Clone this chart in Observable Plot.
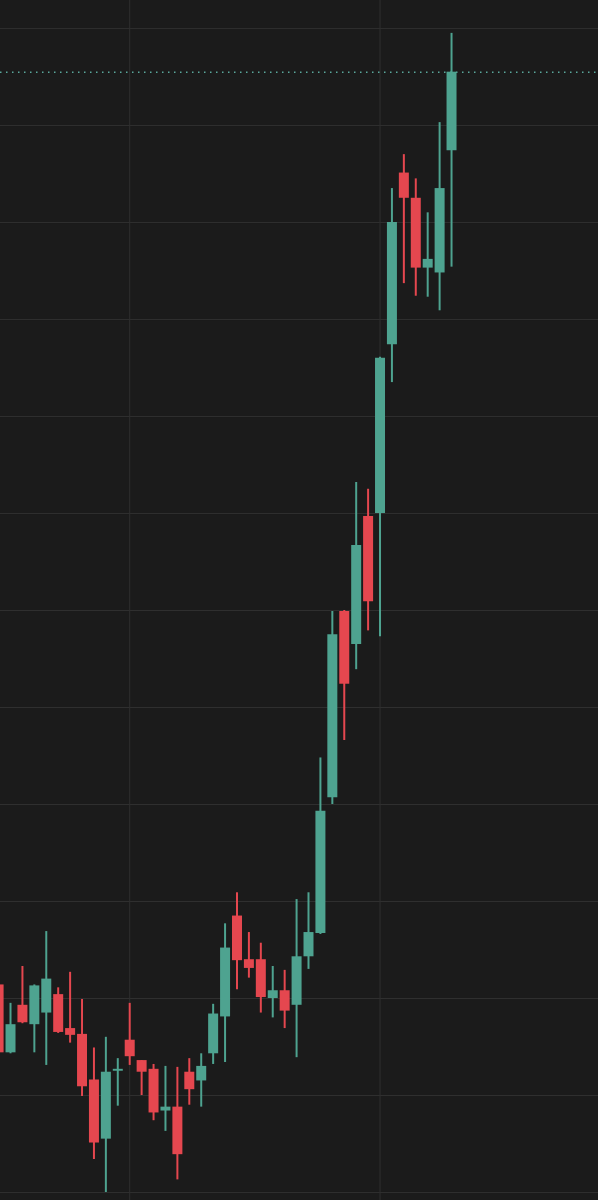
<!DOCTYPE html>
<html>
<head>
<meta charset="utf-8">
<script src="https://cdn.jsdelivr.net/npm/d3@7"></script>
<script src="https://cdn.jsdelivr.net/npm/@observablehq/plot@0.6"></script>
<style>
  html, body { margin: 0; padding: 0; background: #1b1b1b; }
  #chart svg { display: block; }
</style>
</head>
<body>
<div id="chart"></div>
<script>
// Session index of each candle
const sessions = d3.range(39);
const open  = [31.4, 24.4, 29.3, 27.3, 28.5, 30.4, 26.9, 26.3, 21.6, 15.5,
               22.5, 25.7, 23.6, 22.7, 18.4, 18.8, 22.4, 21.5, 24.3, 28.1,
               38.5, 34.0, 34.0, 30.0, 30.8, 29.3, 34.3, 36.7, 50.7, 69.9,
               66.5, 79.7, 80.0, 97.4, 115.1, 112.5, 105.3, 104.8, 117.4];
const high  = [31.5, 29.5, 33.3, 31.4, 36.9, 31.1, 32.7, 29.9, 24.9, 26.0,
               23.8, 29.5, 23.6, 23.2, 23.0, 22.9, 23.8, 24.3, 29.4, 37.7,
               40.9, 36.8, 35.7, 33.3, 32.9, 40.2, 40.9, 54.8, 69.9, 70.0,
               83.2, 82.5, 96.1, 113.5, 117.0, 114.5, 111.0, 120.3, 129.5];
const low   = [24.3, 24.3, 27.4, 24.4, 23.1, 26.4, 25.4, 19.9, 13.4, 10.0,
               18.9, 23.1, 20.0, 17.4, 16.3, 11.3, 19.0, 18.8, 23.2, 23.4,
               30.9, 32.1, 28.5, 28.0, 26.9, 23.9, 33.0, 36.6, 50.0, 56.6,
               63.9, 67.9, 67.3, 93.5, 103.7, 102.4, 102.3, 100.9, 105.4];
const close = [24.4, 27.3, 27.5, 31.3, 32.0, 26.5, 26.2, 20.9, 15.1, 22.4,
               22.7, 24.0, 22.4, 18.2, 18.8, 13.9, 20.6, 23.0, 28.4, 35.2,
               33.9, 33.1, 30.1, 30.8, 28.7, 34.3, 36.8, 49.3, 67.5, 62.4,
               76.7, 70.9, 96.0, 110.0, 112.5, 105.3, 106.2, 113.5, 125.5];
const priceTicks = d3.range(10, 131, 10);
const sessionTicks = [11, 32];

const candles = sessions.map((i) => ({
  i, open: open[i], high: high[i], low: low[i], close: close[i],
  up: close[i] >= open[i]
}));
const lastClose = close[close.length - 1];

const UP = "#4ea390", DOWN = "#e5474f";

const chart = Plot.plot({
  width: 598,
  height: 1200,
  margin: 0,
  style: { background: "#1b1b1b" },
  x: { domain: [0.16, 50.33], axis: null },
  y: { domain: [9.175, 132.89], axis: null },
  marks: [
    Plot.gridY(priceTicks, { stroke: "#2f2f2f", strokeOpacity: 1, strokeWidth: 1 }),
    Plot.gridX(sessionTicks, { stroke: "#2f2f2f", strokeOpacity: 1, strokeWidth: 1 }),
    Plot.ruleY([lastClose], { stroke: "#5aa89c", strokeWidth: 1.5, strokeDasharray: "1.5,4.5" }),
    Plot.ruleX(candles, {
      x: "i", y1: "low", y2: "high",
      stroke: (d) => d.up ? UP : DOWN, strokeWidth: 2
    }),
    Plot.ruleX(candles, {
      x: "i", y1: "open", y2: "close",
      stroke: (d) => d.up ? UP : DOWN, strokeWidth: 10, strokeLinecap: "butt"
    })
  ]
});
document.getElementById("chart").append(chart);
</script>
</body>
</html>
